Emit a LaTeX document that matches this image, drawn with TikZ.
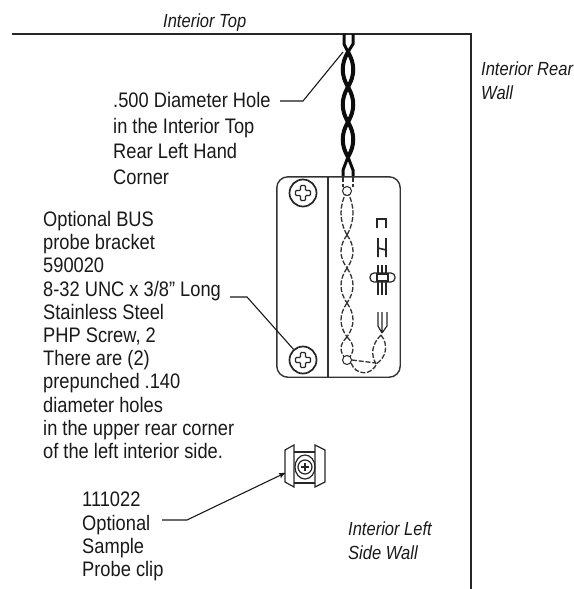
\documentclass[tikz,border=0pt]{standalone}
\usepackage{fontspec}
\setmainfont[FakeStretch=0.87]{Liberation Sans}
\usetikzlibrary{arrows,positioning,calc}
\tikzstyle{callout}=[
	align=left,
	inner sep=0pt,
	anchor=north west,
	font=\fontsize{21}{23.2}\selectfont,
	text=black!90
]
\tikzstyle{wideline}=[
	callout,
	font=\fontsize{21}{25.7}\selectfont
]
\tikzstyle{wallname}=[
	callout,
	font=\fontsize{19}{24}\selectfont\itshape
]
\tikzstyle{leader}=[
	line width=1.1pt,
	black!90
]
\tikzstyle{wall}=[
	line width=1.3pt,
	black!85
]
\tikzstyle{bracket}=[
	line width=1.4pt,
	black!80
]
\tikzstyle{thicklink}=[
	line width=4pt,
	black!95
]
\tikzstyle{dashlink}=[
	line width=1.3pt,
	dash pattern=on 5pt off 1.8pt,
	black!80
]
\tikzstyle{screwhead}=[
	circle,
	draw=black!85,
	line width=1.7pt,
	minimum size=27pt,
	inner sep=0pt
]
\tikzstyle{ring}=[
	circle,
	draw=black!85,
	fill=white,
	line width=1pt,
	minimum size=9pt,
	inner sep=0pt
]
\tikzstyle{detail}=[
	line width=1.2pt,
	black!85
]
\newcommand{\screwcross}[1]{
	\draw [line width=1.1pt, black!85, rounded corners=1pt] ($(#1)+(-2.5,-7.5)$) -- ++(5,0) -- ++(0,5) -- ++(5,0) -- ++(0,5) -- ++(-5,0) -- ++(0,5) -- ++(-5,0) -- ++(0,-5) -- ++(-5,0) -- ++(0,-5) -- ++(5,0) -- cycle;
}
\begin{document}
\begin{tikzpicture}[x=1pt,y=-1pt]
\useasboundingbox (0,0) rectangle (573,589);
% walls
\coordinate (TopLeft) at (12,34);
\coordinate (TopRight) at (471,34);
\coordinate (RightEnd) at (471,589);
\draw [wall] (TopLeft) -- (TopRight) -- (RightEnd);
\node [wallname] (InteriorTop) at (163,14) {Interior Top};
\node [wallname] (RearWall) at (481,62) {Interior Rear\\Wall};
\node [wallname] (SideWall) at (348,522) {Interior Left\\Side Wall};
% chain, solid part
\draw [thicklink, line width=3pt] (344,34) -- (344,44) -- (348,52) (353,34) -- (353,44) -- (348,52);
\foreach \ya/\yb in {52/87,87/122,122/157}
	\draw [thicklink] (348,\ya) .. controls (341,{\ya+(\yb-\ya)/3}) and (341,{\yb-(\yb-\ya)/3}) .. (348,\yb)
		(348,\ya) .. controls (355,{\ya+(\yb-\ya)/3}) and (355,{\yb-(\yb-\ya)/3}) .. (348,\yb);
\draw [thicklink, line width=3pt] (348,157) -- (343,170) -- (343,177) (348,157) -- (353,170) -- (353,177);
% bracket
\node [minimum width=123pt, minimum height=200pt, inner sep=0pt] (Bracket) at (338.5,277) {};
\draw [bracket, rounded corners=11pt] (Bracket.north west) rectangle (Bracket.south east);
\draw [bracket] (328,177) -- (328,377);
\node [screwhead] (TopScrew) at (303,193) {};
\node [screwhead] (BottomScrew) at (303,360) {};
\screwcross{TopScrew}
\screwcross{BottomScrew}
% chain, hidden part
\draw [dashlink] (343,177) -- (343,187) (353,177) -- (353,187);
\foreach \ya/\yb in {191/235,235/268,268/303,303/337,337/360}
	\draw [dashlink] (347,\ya) .. controls (339,{\ya+(\yb-\ya)/3}) and (339,{\yb-(\yb-\ya)/3}) .. (347,\yb)
		(347,\ya) .. controls (355,{\ya+(\yb-\ya)/3}) and (355,{\yb-(\yb-\ya)/3}) .. (347,\yb);
\node [ring] (TopRing) at (347,191) {};
\node [ring] (BottomRing) at (347,360) {};
\draw [dashlink] (BottomRing.east) -- (376,363);
\draw [dashlink] (351,363) .. controls (356,376) and (372,376) .. (377,363);
\draw [dashlink] (381,335) .. controls (371,345) and (371,355) .. (376,364);
\draw [dashlink] (381,335) .. controls (389,345) and (386,358) .. (376,364);
% slots on the right
\draw [detail] (377,228) -- (377,219) -- (386,219) -- (386,228);
\draw [detail, line width=1.6pt] (378,238) -- (378,257) (386,238) -- (386,257) (378,248) -- (386,250);
\draw [detail] (378,265) -- (378,295) (382,265) -- (382,295) (386,265) -- (386,295);
\draw [detail, fill=white, rounded corners=4pt] (370,273) rectangle (395,282);
\draw [detail, fill=white] (377,274) rectangle (388,281);
\draw [detail] (378,312) -- (378,326) -- (382,333) (382,312) -- (382,333) (387,312) -- (387,326) -- (382,333);
% probe clip
\draw [detail] (285,450) -- (294,445) -- (294,487) -- (285,482) -- cycle;
\draw [detail] (315,445) -- (325,450) -- (325,482) -- (315,487) -- cycle;
\draw [detail] (294,452) -- (315,452) (294,483) -- (315,483);
\node [ring, draw=none, fill=none, minimum size=1pt] (ClipScrew) at (305,467) {};
\draw [detail] (ClipScrew) ellipse (10 and 12);
\draw [detail] (ClipScrew) circle (7);
\draw [detail] (301,467) -- (309,467) (305,463) -- (305,471);
% labels
\node [wideline] (HoleText) at (113,92) {.500 Diameter Hole\\in the Interior Top\\Rear Left Hand\\Corner};
\node [callout] (BusText) at (43,211) {Optional BUS\\probe bracket\\590020\\8-32 UNC x 3/8\symbol{34} Long\\Stainless Steel\\PHP Screw, 2\\There are (2)\\prepunched .140\\diameter holes\\in the upper rear corner\\of the left interior side.};
\node [callout] (ClipText) at (82,492) {111022\\Optional\\Sample\\Probe clip};
% leaders
\coordinate (HoleKnee) at (303,101);
\coordinate (HoleStart) at (280,101);
\coordinate (HoleEnd) at (343,52);
\draw [leader] (HoleStart) -- (HoleKnee) -- (HoleEnd);
\coordinate (BusStart) at (230,297);
\coordinate (BusKnee) at (247,297);
\draw [leader] (BusStart) -- (BusKnee) -- (BottomScrew);
\coordinate (ClipStart) at (162,520);
\coordinate (ClipKnee) at (187,520);
\coordinate (ClipEnd) at (285,473);
\draw [leader, ->, >=stealth', shorten >=0pt] (ClipStart) -- (ClipKnee) -- (ClipEnd);
\end{tikzpicture}
\end{document}
